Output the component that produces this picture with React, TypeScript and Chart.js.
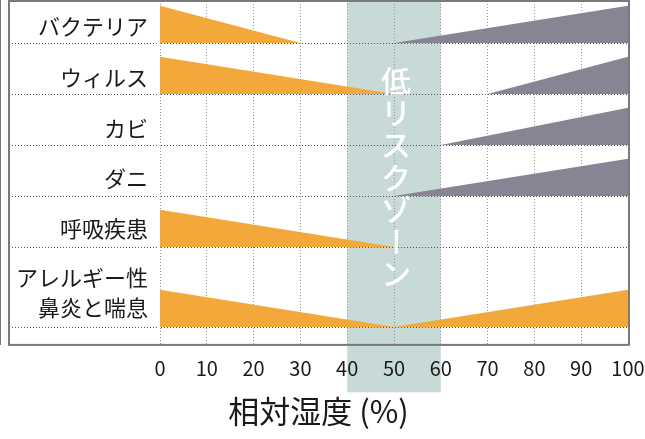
import React, { useEffect, useRef } from "react";
import { Chart, registerables } from "chart.js";
Chart.register(...registerables);

const categories: (string | string[])[] = ["バクテリア", "ウィルス", "カビ", "ダニ", "呼吸疾患", ["アレルギー性", "鼻炎と喘息"]];
const rowBaselines = [5.92, 4.92, 3.92, 2.92, 1.92, 0.35];
const labelLevels = [6.24, 5.25, 4.25, 3.26, 2.29, 1.02];
const wedgeHeight = 0.73;
// humidity where the low-humidity (left) wedge ends, null = none
const lowSideEnds: (number | null)[] = [30, 50, null, null, 50, 50];
// humidity where the high-humidity (right) wedge starts, null = none
const highSideStarts: (number | null)[] = [50, 70, 60, 50, null, 50];
const highSideKinds: (string | null)[] = ["purple", "purple", "purple", "purple", null, "orange"];
const xTicks = [0, 10, 20, 30, 40, 50, 60, 70, 80, 90, 100];
const lowRiskZone = [40, 60];
const zoneLabel = "低リスクゾーン";
const zoneLabelCenter = 3.29;
const axisTitle = "相対湿度 (%)";

const ORANGE = "rgb(243,168,59)";
const PURPLE = "rgb(137,132,148)";
const BAND = "rgb(200,218,215)";
const FRAME = "#7a7a7a";
const FONT = "'Noto Sans CJK JP', 'Noto Sans', sans-serif";

export default function App() {
  const ref = useRef<HTMLCanvasElement>(null);
  useEffect(() => {
    if (!ref.current) return;
    const datasets: any[] = [];
    categories.forEach((_, i) => {
      const b = rowBaselines[i];
      const lo = lowSideEnds[i];
      const hi = highSideStarts[i];
      if (lo !== null && hi !== null && highSideKinds[i] === "orange") {
        datasets.push({
          data: [{ x: 0, y: b + wedgeHeight }, { x: lo, y: b }, { x: 100, y: b + wedgeHeight }],
          fill: { value: b }, backgroundColor: ORANGE,
        });
        return;
      }
      if (lo !== null) {
        datasets.push({
          data: [{ x: 0, y: b + wedgeHeight }, { x: lo, y: b }],
          fill: { value: b }, backgroundColor: ORANGE,
        });
      }
      if (hi !== null) {
        datasets.push({
          data: [{ x: hi, y: b }, { x: 100, y: b + wedgeHeight }],
          fill: { value: b }, backgroundColor: highSideKinds[i] === "orange" ? ORANGE : PURPLE,
        });
      }
    });
    datasets.forEach((d) => {
      d.borderWidth = 0;
      d.borderColor = "rgba(0,0,0,0)";
      d.pointRadius = 0;
      d.tension = 0;
    });

    const plugin = {
      id: "decor",
      beforeDraw(chart: any) {
        const { ctx, scales } = chart;
        const x = scales.x;
        const x0 = x.getPixelForValue(lowRiskZone[0]);
        const x1 = x.getPixelForValue(lowRiskZone[1]);
        ctx.save();
        ctx.fillStyle = BAND;
        ctx.fillRect(x0, 0, x1 - x0, x.bottom);
        ctx.restore();
      },
      afterDraw(chart: any) {
        const { ctx, chartArea, scales } = chart;
        const x = scales.x, y = scales.y;
        // vertical zone label
        const chars = Array.from(zoneLabel);
        const cx = x.getPixelForValue((lowRiskZone[0] + lowRiskZone[1]) / 2) + 2;
        const cy = y.getPixelForValue(zoneLabelCenter);
        const step = 32.3;
        ctx.save();
        ctx.fillStyle = "#ffffff";
        ctx.font = `500 30px ${FONT}`;
        ctx.textAlign = "center";
        ctx.textBaseline = "middle";
        chars.forEach((c, k) => {
          const py = cy + (k - (chars.length - 1) / 2) * step;
          if (c === "ー") {
            ctx.save();
            ctx.translate(cx, py);
            ctx.rotate(Math.PI / 2);
            ctx.fillText(c, 0, 0);
            ctx.restore();
          } else {
            ctx.fillText(c, cx, py);
          }
        });
        ctx.restore();
        // frame
        ctx.save();
        ctx.strokeStyle = FRAME;
        ctx.lineWidth = 2;
        const left = scales.yl.left;
        ctx.strokeRect(left, chartArea.top, chartArea.right + 1 - left, chartArea.bottom - chartArea.top);
        ctx.restore();
      },
    };

    const noPad = (s: any) => {
      s.paddingTop = 0;
      s.paddingBottom = 0;
      s.paddingLeft = 0;
      s.paddingRight = 0;
    };

    const chart = new Chart(ref.current, {
      type: "line",
      data: { datasets },
      options: {
        animation: false,
        responsive: false,
        layout: { padding: { left: 9, right: 17, top: 1, bottom: 9.5 } },
        plugins: {
          legend: { display: false },
          tooltip: { enabled: false },
          title: {
            display: true,
            position: "bottom",
            text: axisTitle,
            color: "#1a1a1a",
            font: { family: FONT, size: 31, weight: "normal", lineHeight: 1.2 },
            padding: 0,
          },
        },
        scales: {
          x: {
            type: "linear",
            min: 0,
            max: 100,
            afterBuildTicks: (s: any) => { s.ticks = xTicks.map((v) => ({ value: v })); },
            afterFit: (s: any) => { s.height = 47.4; noPad(s); },
            grid: { color: "#9a9a9a", lineWidth: 1, drawTicks: false },
            border: { display: false, dash: [1, 2] },
            ticks: {
              color: "#1a1a1a",
              padding: 12,
              maxRotation: 0,
              autoSkip: false,
              font: { family: FONT, size: 20, lineHeight: 1.2 },
            },
          },
          y: {
            type: "linear",
            position: "left",
            weight: 0,
            min: 0,
            max: 6.745,
            afterBuildTicks: (s: any) => { s.ticks = rowBaselines.map((v) => ({ value: v })); },
            afterFit: (s: any) => { s.width = 0; noPad(s); },
            grid: {
              color: "#555",
              lineWidth: 1,
              drawTicks: true,
              tickLength: 151,
              tickColor: "#555",
              tickBorderDash: [1, 2],
              z: 1,
            },
            border: { display: true, color: FRAME, width: 2, dash: [1, 2] },
            ticks: { display: false },
          },
          yl: {
            type: "linear",
            position: "left",
            weight: 1,
            min: 0,
            max: 6.745,
            afterBuildTicks: (s: any) => { s.ticks = labelLevels.map((v) => ({ value: v })); },
            afterFit: (s: any) => { s.width = 151; noPad(s); },
            grid: { display: false, drawTicks: false },
            border: { display: false },
            ticks: {
              autoSkip: false,
              padding: 12,
              color: "#1a1a1a",
              font: { family: FONT, size: 22, lineHeight: 1.35 },
              callback: (_v: any, i: number) => categories[i] as any,
            },
          },
        },
      } as any,
      plugins: [plugin],
    });
    return () => chart.destroy();
  }, []);
  return (
    <canvas
      ref={ref}
      width={645}
      height={439}
      style={{ position: "fixed", left: 0, top: 0, width: 645, height: 439, display: "block" }}
    />
  );
}
